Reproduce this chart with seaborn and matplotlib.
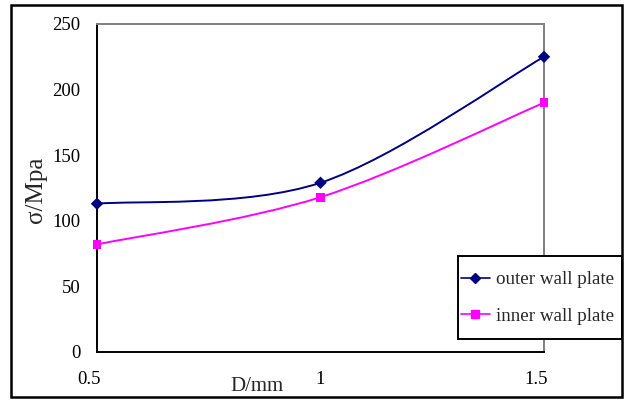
import numpy as np
import pandas as pd
import matplotlib
matplotlib.use("Agg")
import matplotlib.pyplot as plt
import matplotlib.transforms as mtransforms
from matplotlib.path import Path
from matplotlib.patches import PathPatch, Rectangle
from matplotlib.lines import Line2D
import seaborn as sns

# ---- data ----
d_mm = [0.5, 1.0, 1.5]
outer_wall = [113, 129, 225]
inner_wall = [82, 118, 190]
series_names = ["outer wall plate", "inner wall plate"]
x_ticks = [0.5, 1, 1.5]
x_tick_labels = ["0.5", "1", "1.5"]
y_ticks = [0, 50, 100, 150, 200, 250]

colors = {"outer wall plate": "#000080", "inner wall plate": "#FF00FF"}
markers = {"outer wall plate": "D", "inner wall plate": "s"}

df = pd.DataFrame({
    "D": d_mm * 2,
    "sigma": outer_wall + inner_wall,
    "series": [series_names[0]] * 3 + [series_names[1]] * 3,
})

sns.set_theme(style="white")
plt.rcParams["font.family"] = ["Liberation Serif", "DejaVu Serif"]

fig = plt.figure(figsize=(6.26, 4.01), dpi=100)
ax = fig.add_axes([97 / 626, 49 / 401, 447 / 626, 328 / 401])

# markers via seaborn
sns.scatterplot(data=df, x="D", y="sigma", hue="series", style="series",
                palette=colors, markers=markers, s=40, edgecolor=None,
                linewidth=0, ax=ax, legend=False, zorder=3, clip_on=False)


def smooth_path(xs, ys):
    """Excel-like smoothed line as cubic Bezier segments through the data."""
    pts = np.column_stack([xs, ys]).astype(float)
    n = len(pts)
    verts = [pts[0]]
    codes = [Path.MOVETO]
    for i in range(n - 1):
        p0 = pts[i - 1] if i > 0 else pts[i]
        p1 = pts[i]
        p2 = pts[i + 1]
        p3 = pts[i + 2] if i + 2 < n else pts[i + 1]
        c1 = p1 + (p2 - p0) / 6.0
        c2 = p2 - (p3 - p1) / 6.0
        verts += [c1, c2, p2]
        codes += [Path.CURVE4] * 3
    return Path(verts, codes)


for name, vals in zip(series_names, [outer_wall, inner_wall]):
    ax.add_patch(PathPatch(smooth_path(d_mm, vals), facecolor="none",
                           edgecolor=colors[name], lw=1.4, zorder=2,
                           clip_on=False))

ax.set_xlim(0.5, 1.5)
ax.set_ylim(0, 250)
ax.set_xticks(x_ticks)
ax.set_xticklabels(x_tick_labels)
ax.set_yticks(y_ticks)
ax.tick_params(axis="both", direction="in", length=6, width=1.2,
               labelsize=13.5, colors="black", pad=12)
ax.tick_params(axis="x", pad=14)
ax.set_xlabel("D/mm", fontsize=15)
ax.xaxis.set_label_coords(160 / 447, -25 / 328)
ax.set_ylabel("σ/Mpa", fontsize=18)
ax.yaxis.set_label_coords(-50 / 447, 0.495)

# slight leftward offset of the outer x tick labels, as in the reference
xl = ax.get_xticklabels()
for lab in (xl[0], xl[-1]):
    lab.set_transform(lab.get_transform() +
                      mtransforms.ScaledTranslation(-0.075, 0, fig.dpi_scale_trans))

for s in ["left", "bottom"]:
    ax.spines[s].set_color("black")
    ax.spines[s].set_linewidth(1.4)
for s in ["top", "right"]:
    ax.spines[s].set_color("#808080")
    ax.spines[s].set_linewidth(1.4)

# legend box
fig.patches.append(Rectangle((458 / 626, 62 / 401), 164 / 626, 83 / 401,
                             transform=fig.transFigure, facecolor="white",
                             edgecolor="black", lw=1.4, zorder=4))
handles = [Line2D([0], [0], color=colors[n], marker=markers[n],
                  markersize=5 if n.startswith("outer") else 6, lw=1.2)
           for n in series_names]
leg = fig.legend(handles, series_names, loc="center left",
                 bbox_to_anchor=(461 / 626, 103 / 401),
                 bbox_transform=fig.transFigure, fontsize=13.7,
                 frameon=False, handlelength=1.5,
                 labelspacing=1.0, borderpad=0, handletextpad=0.35,
                 borderaxespad=0)
leg.set_zorder(5)

# outer figure border
fig.patches.append(Rectangle((11 / 626, 4 / 401), 611 / 626, 392 / 401,
                             transform=fig.transFigure, fill=False,
                             edgecolor="black", lw=1.8, zorder=6))

fig.savefig("out.png", dpi=100)
